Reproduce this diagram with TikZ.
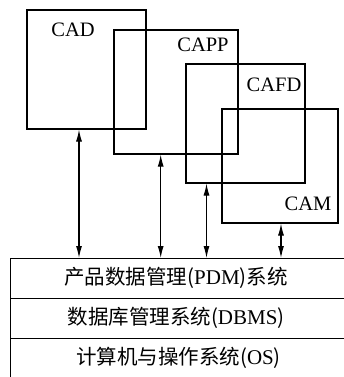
\documentclass[tikz,border=0pt]{standalone}
\usepackage{fontspec}
\setmainfont{Liberation Serif}
\newfontfamily\cjk{Noto Sans CJK SC}
\usetikzlibrary{arrows.meta}
\begin{document}
\begin{tikzpicture}[x=1pt,y=-1pt,
  box/.style={draw,line width=1.2pt,inner sep=0pt,minimum width=#1},
  lbl/.style={font=\fontsize{20.5}{24}\selectfont,inner sep=0pt,anchor=center},
  layer/.style={draw,line width=1.2pt,inner sep=0pt,minimum width=340pt,minimum height=40pt},
  ltext/.style={font=\cjk\fontsize{20.5}{24}\selectfont,inner sep=0pt},
  link/.style={line width=1.1pt,{Latex[length=12pt,width=6pt]}-{Latex[length=12pt,width=6pt]}}]
\useasboundingbox (0,0) rectangle (344,377);
\clip (0,0) rectangle (344,377);
% modules
\node[box=119pt,minimum height=119pt] (cad) at (86.5,69.5) {};
\node[box=124pt,minimum height=124pt] (capp) at (176,92) {};
\node[box=119pt,minimum height=119pt] (cafd) at (245.5,123.5) {};
\node[box=116pt,minimum height=114pt] (cam) at (280,166) {};
\node[lbl] (tcad) at (73,30) {CAD};
\node[lbl] (tcapp) at (203,44.5) {CAPP};
\node[lbl] (tcafd) at (274,84.5) {CAFD};
\node[lbl] (tcam) at (308,204) {CAM};
% layers
\node[layer,anchor=north west] (pdm) at (10,258) {};
\node[layer,anchor=north west] (dbms) at (10,298) {};
\node[layer,anchor=north west,minimum height=44pt] (os) at (10,338) {};
\node[ltext] (tpdm) at (176,278) {产品数据管理({\rmfamily\fontsize{21}{24}\selectfont PDM})系统};
\node[ltext] (tdbms) at (176,318) {数据库管理系统({\rmfamily\fontsize{21}{24}\selectfont DBMS})};
\node[ltext] (tos) at (178.5,358) {计算机与操作系统({\rmfamily\fontsize{21}{24}\selectfont OS})};
% connectors
\coordinate (a1) at (79,0);
\coordinate (a2) at (160.7,0);
\coordinate (a3) at (206.5,0);
\coordinate (a4) at (281,0);
\draw[link] (cad.south -| a1) -- (pdm.north -| a1);
\draw[link] (capp.south -| a2) -- (pdm.north -| a2);
\draw[link] (cafd.south -| a3) -- (pdm.north -| a3);
\draw[link] (cam.south -| a4) -- (pdm.north -| a4);
\end{tikzpicture}
\end{document}
